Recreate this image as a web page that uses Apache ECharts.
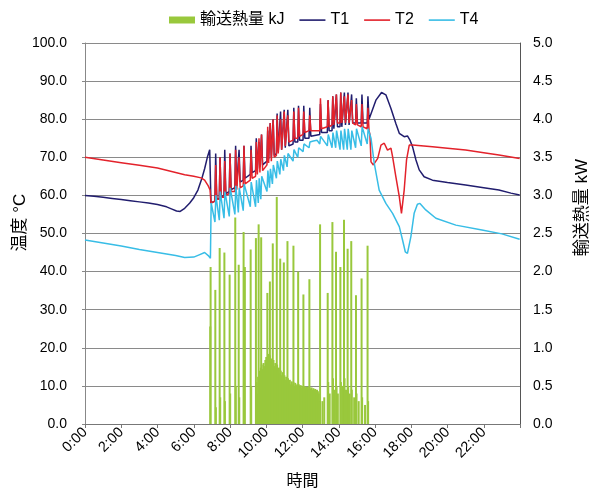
<!DOCTYPE html>
<html>
<head>
<meta charset="utf-8">
<title>輸送熱量と温度</title>
<script src="https://cdn.jsdelivr.net/npm/echarts@6/dist/echarts.min.js"></script>
<style>
  html, body { margin: 0; padding: 0; background: #fff; }
  #main { width: 590px; height: 491px; }
</style>
</head>
<body>
<div id="main"></div>
<script>
// 時刻は時間単位 (0〜24)
var hourTicks = [0, 2, 4, 6, 8, 10, 12, 14, 16, 18, 20, 22];

// 輸送熱量 kW : ポンプ運転ごとの山
var spikeKW = [
  [6.93, 2.06], [7.19, 1.76], [7.43, 2.31], [7.69, 2.25], [7.98, 1.96],
  [8.29, 2.71], [8.48, 2.09], [8.75, 2.52], [8.82, 2.06], [9.14, 2.29],
  [9.43, 2.44], [9.58, 2.62], [9.72, 2.45], [10.06, 1.72], [10.20, 1.87],
  [10.36, 2.37], [10.58, 2.98], [10.77, 2.17], [10.97, 2.12], [11.17, 2.40],
  [11.50, 2.34], [11.76, 2.00], [12.05, 1.70], [12.38, 1.90], [12.97, 2.62],
  [13.39, 1.72], [13.65, 2.65], [13.85, 2.26], [14.09, 2.06], [14.29, 2.68],
  [14.49, 2.30], [14.69, 2.40], [14.95, 1.69], [15.26, 1.91], [15.59, 2.34]
];

// 山のあとの小さい棒
var smallKW = [
  [6.91, 1.28], [7.22, 0.22], [7.46, 0.35], [7.72, 0.30], [8.01, 0.40],
  [8.32, 0.50], [8.51, 0.35], [8.78, 0.45], [9.17, 0.50], [9.46, 0.55],
  [13.10, 0.30], [13.20, 0.35], [13.42, 0.55], [13.50, 0.40], [13.68, 0.60],
  [13.75, 0.45], [13.88, 0.50], [13.95, 0.40], [14.12, 0.55], [14.20, 0.50],
  [14.32, 0.60], [14.40, 0.45], [14.52, 0.50], [14.60, 0.40], [14.72, 0.45],
  [14.85, 0.35], [14.98, 0.40], [15.10, 0.30], [15.29, 0.35], [15.45, 0.25],
  [15.62, 0.30]
];

// 昼間の連続運転部分
var fillKW = [
  [9.50, 0.40], [9.55, 0.62], [9.60, 0.70], [9.65, 0.66], [9.70, 0.74],
  [9.75, 0.78], [9.80, 0.72], [9.85, 0.80], [9.90, 0.76], [9.95, 0.84],
  [10.00, 0.88], [10.05, 0.80], [10.10, 0.92], [10.15, 0.86], [10.20, 0.90],
  [10.25, 0.82], [10.30, 0.86], [10.35, 0.80], [10.40, 0.84], [10.45, 0.76],
  [10.50, 0.80], [10.55, 0.72], [10.60, 0.78], [10.65, 0.70], [10.70, 0.74],
  [10.75, 0.66], [10.80, 0.70], [10.85, 0.64], [10.90, 0.68], [10.95, 0.60],
  [11.00, 0.64], [11.05, 0.58], [11.10, 0.62], [11.15, 0.56], [11.20, 0.60],
  [11.25, 0.54], [11.30, 0.58], [11.35, 0.52], [11.40, 0.56], [11.45, 0.52],
  [11.50, 0.55], [11.55, 0.50], [11.60, 0.54], [11.65, 0.50], [11.70, 0.52],
  [11.75, 0.48], [11.80, 0.52], [11.85, 0.49], [11.90, 0.51], [11.95, 0.48],
  [12.00, 0.50], [12.05, 0.47], [12.10, 0.50], [12.15, 0.48], [12.20, 0.49],
  [12.25, 0.47], [12.30, 0.49], [12.35, 0.46], [12.40, 0.48], [12.45, 0.46],
  [12.50, 0.48], [12.55, 0.45], [12.60, 0.47], [12.65, 0.45], [12.70, 0.46],
  [12.75, 0.44], [12.80, 0.45], [12.85, 0.43], [12.90, 0.40], [12.95, 0.30]
];

// T1 温度
var t1 = [
  [0, 60], [0.5, 59.8], [1, 59.5], [1.5, 59.2], [2, 58.9], [2.5, 58.6], [3, 58.3],
  [3.5, 58], [4, 57.6], [4.5, 57], [4.8, 56.4], [5.05, 55.9], [5.25, 55.8], [5.5, 56.6],
  [5.78, 58], [6.0, 59.4], [6.23, 61.4], [6.45, 64.5], [6.6, 67], [6.75, 70], [6.88, 72],
  [6.95, 58],
  [7.17, 58.5], [7.21, 71], [7.27, 59],
  [7.41, 59.2], [7.45, 70], [7.51, 59.6],
  [7.67, 60], [7.71, 72], [7.77, 60.5],
  [7.96, 61], [8.00, 71], [8.06, 61.5],
  [8.27, 62], [8.31, 73], [8.37, 62.5],
  [8.46, 63], [8.50, 72], [8.56, 63.5],
  [8.73, 64], [8.77, 73], [8.83, 64.5],
  [9.12, 65.5], [9.16, 73], [9.22, 66],
  [9.41, 66.5], [9.45, 75], [9.51, 67],
  [9.56, 67], [9.60, 74], [9.65, 67.5],
  [9.70, 67.5], [9.74, 76], [9.80, 68],
  [10.04, 69], [10.08, 77], [10.13, 69.5],
  [10.18, 69.5], [10.22, 79], [10.28, 70],
  [10.34, 70], [10.38, 80], [10.44, 70.5],
  [10.56, 71], [10.60, 81.5], [10.66, 71.5],
  [10.75, 71.5], [10.79, 82], [10.85, 72],
  [10.95, 72], [10.99, 82.5], [11.05, 72.5],
  [11.15, 72.5], [11.19, 82.5], [11.25, 73],
  [11.48, 73.5], [11.52, 83], [11.58, 74],
  [11.74, 74], [11.78, 83.5], [11.84, 74.5],
  [12.03, 74.5], [12.07, 83.5], [12.13, 75],
  [12.36, 75], [12.40, 83], [12.46, 75.5],
  [12.95, 76], [12.99, 84], [13.05, 76.5],
  [13.37, 76.5], [13.41, 85], [13.47, 77],
  [13.63, 77], [13.67, 86], [13.73, 77.5],
  [13.83, 77.5], [13.87, 86.5], [13.93, 78],
  [14.07, 78], [14.11, 87], [14.17, 78],
  [14.27, 78], [14.31, 87], [14.37, 78.5],
  [14.47, 78.5], [14.51, 87], [14.57, 78.5],
  [14.67, 78.5], [14.71, 86.5], [14.77, 79],
  [14.93, 79], [14.97, 85.5], [15.03, 79],
  [15.24, 79], [15.28, 86.5], [15.34, 79],
  [15.57, 79], [15.61, 86], [15.67, 80],
  [15.78, 79.8], [16.05, 85], [16.36, 87], [16.6, 86.4], [16.88, 82.8], [17.15, 78.9],
  [17.34, 76.3], [17.61, 75.4], [17.79, 75.6], [17.93, 74.5], [18.07, 72.8], [18.26, 69.3],
  [18.44, 66.7], [18.71, 64.9], [19.17, 64.0], [20, 63.4], [21.0, 62.7], [22, 62],
  [22.84, 61.4], [23.5, 60.6], [23.98, 60.1]
];

// T2 温度
var t2 = [
  [0, 70], [1, 69.3], [2, 68.6], [3, 67.9], [4, 67.2], [5, 66], [5.5, 65.4], [6, 65],
  [6.4, 64.6], [6.6, 64], [6.8, 62.5], [6.9, 61.4], [6.95, 58],
  [7.17, 58.5], [7.21, 68], [7.27, 59],
  [7.41, 59], [7.45, 70], [7.51, 59.5],
  [7.67, 59.5], [7.71, 69], [7.77, 60],
  [7.96, 60.5], [8.00, 71], [8.06, 61],
  [8.27, 61], [8.31, 72], [8.37, 61.5],
  [8.46, 61.5], [8.50, 70], [8.56, 62],
  [8.73, 62.5], [8.77, 73], [8.83, 63],
  [9.12, 64], [9.16, 72], [9.22, 64.5],
  [9.41, 65], [9.45, 74], [9.51, 65.5],
  [9.56, 65.5], [9.60, 75], [9.65, 66],
  [9.70, 66], [9.74, 76], [9.80, 66.5],
  [10.04, 68], [10.08, 78], [10.13, 68.5],
  [10.18, 68.5], [10.22, 79], [10.28, 69],
  [10.34, 69.5], [10.38, 80], [10.44, 70],
  [10.56, 70.5], [10.60, 81], [10.66, 71],
  [10.75, 71.5], [10.79, 80], [10.85, 72],
  [10.95, 72.5], [10.99, 82], [11.05, 73],
  [11.15, 73.5], [11.19, 81], [11.25, 74],
  [11.48, 74.5], [11.52, 82], [11.58, 75],
  [11.74, 75], [11.78, 83], [11.84, 75.5],
  [12.03, 76], [12.07, 82], [12.13, 76.5],
  [12.36, 77], [12.40, 81], [12.46, 77],
  [12.95, 77], [12.99, 85.5], [13.05, 77.5],
  [13.37, 78], [13.41, 85], [13.47, 78],
  [13.63, 78.5], [13.67, 86], [13.73, 78.5],
  [13.83, 78.5], [13.87, 86.5], [13.93, 79],
  [14.07, 79], [14.11, 87], [14.17, 79],
  [14.27, 79], [14.31, 86], [14.37, 79],
  [14.47, 79], [14.51, 86.5], [14.57, 79],
  [14.67, 79], [14.71, 85], [14.77, 79],
  [14.93, 78.5], [14.97, 84], [15.03, 78.5],
  [15.24, 78], [15.28, 84], [15.34, 78],
  [15.57, 77.5], [15.61, 83], [15.67, 77],
  [15.72, 76], [15.78, 68.8], [15.91, 68], [16.15, 69.7], [16.33, 73.2], [16.51, 73.7],
  [16.69, 71.9], [16.79, 71.5], [16.88, 72.4], [16.97, 70.2], [17.15, 64.9], [17.34, 59.7],
  [17.46, 55.3], [17.61, 61.4], [17.74, 69.3], [17.89, 73.2], [18.07, 73.2], [19.17, 72.8],
  [20, 72.4], [21.0, 71.9], [22, 71.2], [22.84, 70.6], [23.98, 69.7]
];

// T4 温度
var t4 = [
  [0, 48.3], [1, 47.5], [2, 46.7], [3, 45.8], [4, 45], [5, 44.2], [5.5, 43.7], [6, 43.8],
  [6.3, 44.4], [6.6, 45], [6.8, 44.2], [6.92, 43.5], [6.96, 58],
  [7.17, 53], [7.22, 60], [7.41, 53.5], [7.46, 61], [7.67, 54], [7.72, 61],
  [7.96, 54.5], [8.01, 62], [8.27, 55], [8.32, 62.5], [8.46, 55.5], [8.51, 62],
  [8.73, 56], [8.78, 63], [9.12, 57], [9.17, 63.5], [9.41, 57], [9.46, 64],
  [9.56, 58], [9.61, 64.5], [9.70, 59], [9.75, 65], [10.04, 61], [10.09, 66.5],
  [10.18, 62], [10.23, 67], [10.34, 63], [10.39, 68], [10.56, 64.5], [10.61, 69],
  [10.75, 65.5], [10.80, 69.5], [10.95, 66.5], [11.00, 70.5], [11.15, 67.5], [11.20, 71],
  [11.48, 69], [11.53, 72], [11.74, 70], [11.79, 72.5], [12.03, 71.5], [12.08, 73.5],
  [12.36, 72.5], [12.41, 74], [12.6, 74.3], [12.8, 74.5], [12.95, 73.5], [13.0, 75.5],
  [13.37, 73], [13.42, 76], [13.63, 72.5], [13.68, 76.5], [13.83, 72.5], [13.88, 77],
  [14.07, 72], [14.12, 77], [14.27, 72], [14.32, 77.5], [14.47, 72], [14.52, 77.5],
  [14.67, 72], [14.72, 77], [14.93, 72.5], [14.98, 77.5], [15.24, 73], [15.29, 78],
  [15.57, 73.5], [15.62, 77.5], [15.7, 77],
  [15.78, 75], [15.96, 68.4], [16.23, 61.4], [16.6, 57.9], [16.97, 55.3], [17.34, 51.8],
  [17.52, 48.3], [17.67, 45.2], [17.79, 44.8], [17.98, 49.2], [18.16, 55.3], [18.34, 57.7],
  [18.48, 57.9], [18.8, 56.2], [19.36, 54], [20.46, 52.2], [21.9, 50.9], [23.0, 49.9],
  [23.98, 48.5]
];

var FONT = "'Liberation Sans', 'Noto Sans CJK JP', sans-serif";
var GRID_COLOR = '#8a8a8a';
// 凡例の線アイコン (細い帯、上下に余白)
var LINE_ICON = 'path://M0,0 M0,2.8 L26,2.8 L26,4.4 L0,4.4 Z M26,7';

var chart = echarts.init(document.getElementById('main'));

var option = {
  animation: false,
  textStyle: { fontFamily: FONT, color: '#000' },
  legend: {
    left: 164,
    top: 7,
    itemWidth: 26,
    itemHeight: 7,
    itemGap: 15,
    textStyle: { fontSize: 16, color: '#000', fontFamily: FONT },
    data: [
      { name: '輸送熱量 kJ', icon: 'rect' },
      { name: 'T1', icon: LINE_ICON },
      { name: 'T2', icon: LINE_ICON },
      { name: 'T4', icon: LINE_ICON }
    ]
  },
  grid: { left: 85, right: 70, top: 43, bottom: 67, outerBoundsMode: 'none' },
  xAxis: {
    type: 'value',
    min: 0,
    max: 24,
    interval: 2,
    name: '時間',
    nameLocation: 'middle',
    nameGap: 50,
    nameMoveOverlap: false,
    nameTextStyle: { fontSize: 16, color: '#000' },
    axisLine: { lineStyle: { color: '#777' } },
    axisTick: { length: 4, lineStyle: { color: '#777' } },
    splitLine: { show: false },
    axisLabel: {
      rotate: 45,
      fontSize: 14.5,
      color: '#000',
      margin: 6,
      formatter: function(v) {
        if (v >= 24) return '';
        return v + ':00';
      }
    }
  },
  yAxis: [{
    type: 'value',
    min: 0,
    max: 100,
    interval: 10,
    name: '温度 °C',
    nameLocation: 'middle',
    nameGap: 56,
    nameMoveOverlap: false,
    nameTextStyle: { fontSize: 17, color: '#000', padding: [0, 0, 0, 22] },
    axisLine: { show: true, lineStyle: { color: '#888' } },
    axisTick: { show: true, length: 3, lineStyle: { color: '#888' } },
    splitLine: { lineStyle: { color: GRID_COLOR } },
    axisLabel: {
      fontSize: 14,
      color: '#000',
      margin: 18,
      formatter: function(v) { return v.toFixed(1); }
    }
  }, {
    type: 'value',
    min: 0,
    max: 5,
    interval: 0.5,
    name: '輸送熱量 kW',
    nameLocation: 'middle',
    nameGap: 54,
    nameMoveOverlap: false,
    nameTextStyle: { fontSize: 17, color: '#000', padding: [0, 0, 0, 52] },
    axisLine: { show: true, lineStyle: { color: '#555' } },
    axisTick: { show: false },
    splitLine: { show: false },
    axisLabel: {
      fontSize: 14,
      color: '#000',
      margin: 13,
      formatter: function(v) { return v.toFixed(1); }
    }
  }],
  series: [{
    name: '輸送熱量 kJ',
    type: 'bar',
    yAxisIndex: 1,
    barWidth: 2,
    itemStyle: { color: '#99c83c' },
    data: spikeKW.concat(smallKW, fillKW)
  }, {
    name: 'T1',
    type: 'line',
    symbol: 'none',
    lineStyle: { width: 1.5, color: '#211d6e' },
    itemStyle: { color: '#211d6e' },
    data: t1
  }, {
    name: 'T2',
    type: 'line',
    symbol: 'none',
    lineStyle: { width: 1.5, color: '#e3222b' },
    itemStyle: { color: '#e3222b' },
    data: t2
  }, {
    name: 'T4',
    type: 'line',
    symbol: 'none',
    lineStyle: { width: 1.5, color: '#38bde6' },
    itemStyle: { color: '#38bde6' },
    data: t4
  }]
};

chart.setOption(option);
</script>
</body>
</html>
